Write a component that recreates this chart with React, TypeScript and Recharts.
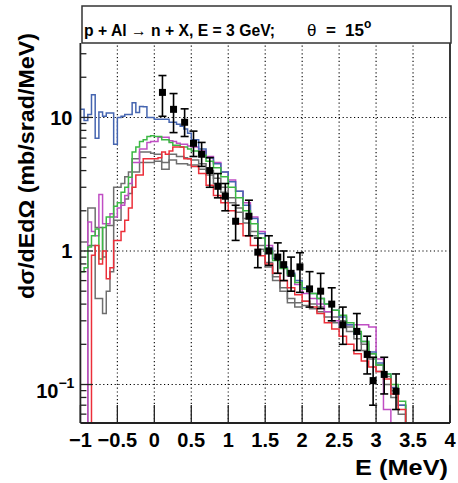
import React from 'react';
import { ComposedChart, Line, Scatter, XAxis, YAxis, ReferenceLine, ErrorBar } from 'recharts';

// Bin start edges (fine 0.05 bins up to 0.5, then 0.1 bins), plus the final edge
const BIN_X = [-1.0, -0.95, -0.9, -0.85, -0.8, -0.75, -0.7, -0.65, -0.6, -0.55,
  -0.5, -0.45, -0.4, -0.35, -0.3, -0.25, -0.2, -0.15, -0.1, -0.05,
  0.0, 0.05, 0.1, 0.15, 0.2, 0.25, 0.3, 0.35, 0.4, 0.45,
  0.5, 0.6, 0.7, 0.8, 0.9, 1.0, 1.1, 1.2, 1.3, 1.4, 1.5, 1.6, 1.7, 1.8, 1.9,
  2.0, 2.1, 2.2, 2.3, 2.4, 2.5, 2.6, 2.7, 2.8, 2.9, 3.0, 3.1, 3.2, 3.3];
const BIN_END = 3.4;

const BLUE = [11.5, 9.5, 10.5, 14.8, 7.0, 11.0, 10.2, 10.8, 10.8, 6.3,
  10.0, 10.2, 10.5, 10.5, 12.9, 10.9, 12.1, 12.0, 10.0, 10.0,
  9.7, 9.7, 9.7, 9.7, 9.2, 9.2, 8.9, 8.6, 8.2, 7.6,
  6.8, 5.8, 5.0, 4.5, 3.9, 3.3, 2.8, 2.2, 1.75, 1.35, 1.05, 0.88, 0.76, 0.68, 0.6,
  0.53, 0.48, 0.44, 0.40, 0.36, 0.32, 0.28, 0.24, 0.21, 0.175, 0.145, 0.12, 0.095, 0.07];

const GREEN = [0.7, 0.75, 1.07, 1.3, 1.46, 0.87, 1.5, 1.8, 1.8, 2.16,
  2.3, 2.75, 3.0, 3.57, 5.5, 6.0, 6.6, 6.8, 7.2, 7.3,
  7.2, 7.2, 6.8, 6.8, 6.5, 6.2, 6.2, 6.0, 6.0, 5.8,
  5.6, 5.2, 4.7, 4.2, 3.6, 3.0, 2.5, 2.0, 1.6, 1.25, 1.0, 0.85, 0.74, 0.66, 0.58,
  0.52, 0.48, 0.44, 0.40, 0.36, 0.33, 0.29, 0.25, 0.21, 0.17, 0.14, 0.12, 0.10, 0.075];

const MAGENTA = [0, 0, 1.65, 1.4, 1.3, 2.65, 1.6, 1.6, 1.9, 1.8,
  2.1, 2.2, 2.6, 3.2, 4.6, 4.6, 5.8, 5.8, 6.5, 6.6,
  6.6, 7.1, 7.1, 7.1, 6.7, 6.6, 6.4, 6.3, 6.3, 6.1,
  6.0, 5.6, 5.1, 4.6, 3.9, 3.4, 2.8, 2.3, 1.8, 1.4, 1.1, 0.88, 0.75, 0.65, 0.56,
  0.48, 0.44, 0.40, 0.35, 0.30, 0.28, 0.28, 0.28, 0.28, 0.27, 0.155, 0.065, 0, 0];

const RED = [0, 0, 0, 0.93, 1.1, 0.8, 1.0, 0.62, 0.75, 1.2,
  1.2, 1.4, 1.7, 2.1, 3.0, 3.7, 3.7, 4.9, 4.9, 4.9,
  4.9, 5.0, 5.5, 5.3, 5.6, 6.0, 6.0, 6.0, 4.9, 4.9,
  4.3, 3.8, 3.1, 2.6, 2.3, 2.0, 1.6, 1.3, 1.1, 0.92, 0.8, 0.68, 0.6, 0.53, 0.47,
  0.42, 0.38, 0.34, 0.29, 0.26, 0.23, 0.2, 0.17, 0.15, 0.135, 0.125, 0.11, 0.085, 0.065];

const GRAY_HI = [1.17, 1.17, 2.1, 2.1, 1.5, 1.5, 0.9, 1.55, 1.55, 3.0,
  3.0, 3.2, 3.6, 3.9, 4.9, 4.9, 5.5, 5.5, 5.5, 5.4,
  5.3, 5.3, 4.6, 4.6, 5.3, 5.3, 5.1, 5.1, 5.0, 4.9,
  4.8, 4.5, 4.0, 3.5, 3.0, 2.5, 2.1, 1.75, 1.4, 1.1, 0.82, 0.64, 0.53, 0.44, 0.41,
  0.42, 0.40, 0.38, 0.35, 0.32, 0.30, 0.27, 0.24, 0.20, 0.17, 0.14, 0.115, 0.09, 0.07];

const GRAY_LO = [0, 0, 1.1, 1.1, 0.44, 0.44, 0.34, 0.5, 0.7, 1.7,
  1.7, 2.3, 2.45, 2.7, 3.9, 3.9, 4.6, 4.6, 4.6, 4.6,
  4.7, 4.7, 4.1, 4.1, 4.8, 4.8, 4.5, 4.5, 4.5, 4.4,
  4.4, 4.1, 3.7, 3.2, 2.75, 2.3, 1.95, 1.62, 1.3, 1.03, 0.76, 0.6, 0.5, 0.41, 0.38,
  0.39, 0.37, 0.35, 0.32, 0.29, 0.27, 0.25, 0.22, 0.18, 0.155, 0.125, 0.1, 0.08, 0.06];

// Experimental points
const PT_X = [0.11, 0.26, 0.41, 0.53, 0.64, 0.75, 0.86, 0.96, 1.10, 1.28, 1.40, 1.55, 1.67,
  1.75, 1.85, 1.97, 2.10, 2.25, 2.40, 2.55, 2.74, 2.88, 2.96, 3.11, 3.27];
const PT_Y = [15.4, 11.5, 9.2, 6.4, 5.3, 4.0, 3.05, 2.57, 1.67, 1.82, 0.98, 1.0, 0.90,
  0.79, 0.68, 0.76, 0.52, 0.50, 0.40, 0.28, 0.25, 0.168, 0.107, 0.119, 0.089];
const PT_LO = [10.2, 7.7, 7.2, 5.1, 4.3, 3.0, 2.5, 2.0, 1.2, 1.3, 0.75, 0.78, 0.68,
  0.6, 0.5, 0.49, 0.38, 0.37, 0.3, 0.2, 0.18, 0.12, 0.07, 0.085, 0.065];
const PT_HI = [20.6, 15.1, 11.6, 7.9, 6.5, 5.0, 3.8, 3.2, 2.2, 2.4, 1.25, 1.3, 1.15,
  1.0, 0.9, 0.97, 0.7, 0.68, 0.53, 0.38, 0.34, 0.23, 0.16, 0.16, 0.12];

const X_TICKS = [-1, -0.5, 0, 0.5, 1, 1.5, 2, 2.5, 3, 3.5, 4];
const X_TICK_LABELS = ['\u22121', '\u22120.5', '0', '0.5', '1', '1.5', '2', '2.5', '3', '3.5', '4'];
const X_GRID = [-0.5, 0, 0.5, 1, 1.5, 2, 2.5, 3, 3.5];
const Y_MAJOR = [0.1, 1, 10];
const Y_MINOR = [0.06, 0.07, 0.08, 0.09, 0.2, 0.3, 0.4, 0.5, 0.6, 0.7, 0.8, 0.9,
  2, 3, 4, 5, 6, 7, 8, 9, 20, 30];
const Y_GRID = [0.1, 1, 10];

const TITLE_LEFT = 'p + Al \u2192 n + X, E = 3 GeV;';
const TITLE_THETA = '\u03b8';
const TITLE_EQ = '=';
const TITLE_ANGLE = '15';
const TITLE_DEG = 'o';
const X_TITLE = 'E (MeV)';
const Y_TITLE = 'd\u03c3/dEd\u03a9 (mb/srad/MeV)';

const FLOOR = 0.001;
const FONT = '"Liberation Sans", Arial, Helvetica, sans-serif';

const hist = (vals: number[]) => {
  const pts = BIN_X.map((x, i) => ({ x, y: vals[i] > 0 ? vals[i] : FLOOR }));
  pts.push({ x: BIN_END, y: FLOOR });
  return pts;
};

const points = PT_X.map((x, i) => ({
  x,
  y: PT_Y[i],
  err: [PT_Y[i] - PT_LO[i], PT_HI[i] - PT_Y[i]],
}));

const Y_TICKS = [...Y_MINOR, ...Y_MAJOR].sort((a, b) => a - b);

const YTick = (props: any) => {
  const { x, y, payload } = props;
  const v = payload.value;
  const major = Y_MAJOR.includes(v);
  const len = major ? 12 : 6;
  let label: any = null;
  if (major) {
    if (v === 0.1) {
      label = (
        <text x={x - 6} y={y + 13} textAnchor="end" fontFamily={FONT} fontWeight="bold" fontSize={20} fill="#000">
          10<tspan dy={-10} fontSize={14}>{'\u22121'}</tspan>
        </text>
      );
    } else {
      label = (
        <text x={x - 8} y={y + 7.5} textAnchor="end" fontFamily={FONT} fontWeight="bold" fontSize={20} fill="#000">
          {String(v)}
        </text>
      );
    }
  }
  return (
    <g>
      <line x1={x} y1={y} x2={x + len} y2={y} stroke="#222" strokeWidth={1.3} />
      {label}
    </g>
  );
};

const XTick = (props: any) => {
  const { x, y, payload, index } = props;
  const i = X_TICKS.indexOf(payload.value);
  return (
    <g>
      <line x1={x} y1={y} x2={x} y2={y - 18} stroke="#222" strokeWidth={1.3} />
      <text x={x} y={y + 24} textAnchor="middle" fontFamily={FONT} fontWeight="bold" fontSize={20} fill="#000">
        {X_TICK_LABELS[i >= 0 ? i : index]}
      </text>
    </g>
  );
};

const Square = (props: any) => {
  const { cx, cy } = props;
  return <rect x={cx - 3.5} y={cy - 3.5} width={7} height={7} fill="#000" />;
};

const SERIES = [
  { key: 'grayHi', vals: GRAY_HI, color: '#6e6e6e' },
  { key: 'grayLo', vals: GRAY_LO, color: '#6e6e6e' },
  { key: 'magenta', vals: MAGENTA, color: '#c04ec4' },
  { key: 'blue', vals: BLUE, color: '#4565b0' },
  { key: 'green', vals: GREEN, color: '#3cb844' },
  { key: 'red', vals: RED, color: '#ec2f3a' },
];

export default function App() {
  return (
    <div style={{ position: 'absolute', left: 0, top: 0, width: 458, height: 483, background: '#fff' }}>
      <ComposedChart width={458} height={483} margin={{ top: 43, right: 8, bottom: 0, left: 0 }}>
        <XAxis
          type="number"
          dataKey="x"
          domain={[-1, 4]}
          ticks={X_TICKS}
          interval={0}
          allowDataOverflow
          height={60}
          tickSize={0}
          tickMargin={0}
          tickLine={false}
          axisLine={{ stroke: '#222', strokeWidth: 1.8 }}
          tick={<XTick />}
        />
        <YAxis
          type="number"
          dataKey="y"
          scale="log"
          domain={[0.0515, 36.1]}
          ticks={Y_TICKS}
          interval={0}
          allowDataOverflow
          width={80.4}
          tickSize={0}
          tickMargin={0}
          tickLine={false}
          axisLine={{ stroke: '#222', strokeWidth: 1.8 }}
          tick={<YTick />}
        />
        {X_GRID.map((v) => (
          <ReferenceLine key={'gx' + v} x={v} stroke="#000" strokeWidth={1.1} strokeDasharray="1.2 2.6" />
        ))}
        {Y_GRID.map((v) => (
          <ReferenceLine key={'gy' + v} y={v} stroke="#000" strokeWidth={1.1} strokeDasharray="1.2 2.6" />
        ))}
        <ReferenceLine x={4} stroke="#222" strokeWidth={1.8} />
        {SERIES.map((s) => (
          <Line
            key={s.key}
            data={hist(s.vals)}
            dataKey="y"
            type="stepAfter"
            stroke={s.color}
            strokeWidth={1.5}
            dot={false}
            activeDot={false}
            isAnimationActive={false}
          />
        ))}
        <Scatter data={points} dataKey="y" shape={<Square />} isAnimationActive={false}>
          <ErrorBar dataKey="err" direction="y" width={4} stroke="#000" strokeWidth={1.6} />
        </Scatter>
      </ComposedChart>
      <svg width={458} height={483} style={{ position: 'absolute', left: 0, top: 0, pointerEvents: 'none' }}>
        <rect x={82} y={6} width={369} height={37} fill="#fff" stroke="#333" strokeWidth={1.5} />
        <text x={84} y={36} fontFamily={FONT} fontWeight="bold" fontSize={16} fill="#000" textLength={191} lengthAdjust="spacingAndGlyphs">
          {TITLE_LEFT}
        </text>
        <text y={36} fontFamily={FONT} fontWeight="bold" fontSize={17} fill="#000">
          <tspan x={307} fontWeight="normal">{TITLE_THETA}</tspan>
          <tspan x={326}>{TITLE_EQ}</tspan>
          <tspan x={345}>{TITLE_ANGLE}</tspan>
          <tspan dy={-8} fontSize={12}>{TITLE_DEG}</tspan>
        </text>
        <text x={448} y={475} textAnchor="end" fontFamily={FONT} fontWeight="bold" fontSize={22} fill="#000" textLength={93} lengthAdjust="spacingAndGlyphs">
          {X_TITLE}
        </text>
        <text
          x={34}
          y={166}
          textAnchor="middle"
          transform="rotate(-90, 34, 166)"
          fontFamily={FONT}
          fontWeight="bold"
          fontSize={22}
          fill="#000"
          textLength={266}
          lengthAdjust="spacingAndGlyphs"
        >
          {Y_TITLE}
        </text>
      </svg>
    </div>
  );
}
